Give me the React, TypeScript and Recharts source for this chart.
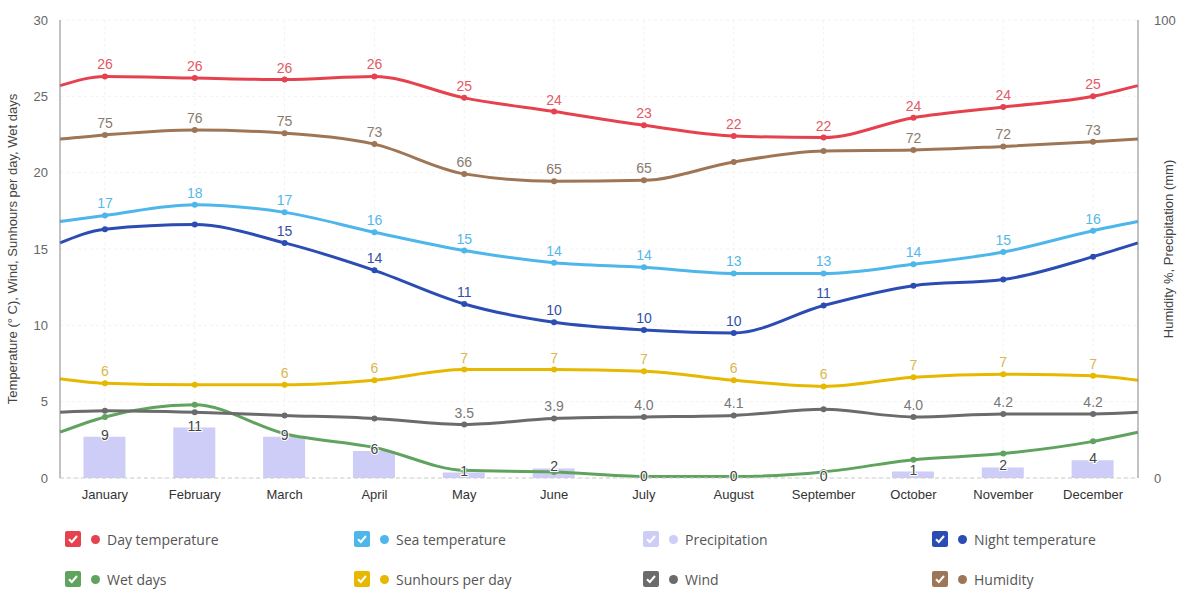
import React from 'react';
import { ComposedChart, Line, Bar, XAxis, YAxis, CartesianGrid, LabelList } from 'recharts';

const months = [
  'January', 'February', 'March', 'April', 'May', 'June',
  'July', 'August', 'September', 'October', 'November', 'December',
];

// first and last entries are the values where the curves meet the plot edges
const dayTemp = [25.7, 26.3, 26.2, 26.1, 26.3, 24.9, 24.0, 23.1, 22.4, 22.3, 23.6, 24.3, 25.0, 25.7];
const seaTemp = [16.8, 17.2, 17.9, 17.4, 16.1, 14.9, 14.1, 13.8, 13.4, 13.4, 14.0, 14.8, 16.2, 16.8];
const precipitation = [null, 9, 11, 9, 5.9, 1.2, 2.1, 0, 0, 0, 1.4, 2.3, 3.9, null];
const nightTemp = [15.4, 16.3, 16.6, 15.4, 13.6, 11.4, 10.2, 9.7, 9.5, 11.3, 12.6, 13.0, 14.5, 15.4];
const wetDays = [3.0, 4.0, 4.8, 2.9, 2.0, 0.5, 0.4, 0.1, 0.1, 0.4, 1.2, 1.6, 2.4, 3.0];
const sunhours = [6.5, 6.2, 6.1, 6.1, 6.4, 7.1, 7.1, 7.0, 6.4, 6.0, 6.6, 6.8, 6.7, 6.4];
const wind = [4.3, 4.4, 4.3, 4.1, 3.9, 3.5, 3.9, 4.0, 4.1, 4.5, 4.0, 4.2, 4.2, 4.3];
const humidity = [74.0, 74.9, 76.0, 75.3, 72.9, 66.4, 64.8, 65.0, 69.0, 71.4, 71.6, 72.4, 73.4, 74.0];

// months (0-based) whose value labels are not shown
const nightHidden = [0, 1, 9, 10, 11];
const sunHidden = [1];
const windHidden = [0, 1, 2, 3, 8];
const humidityHidden = [7, 8];

const leftTicks = [0, 5, 10, 15, 20, 25, 30];
const rightTicks = [0, 100];

const data = dayTemp.map((_, i) => ({
  x: i === 0 ? -0.5 : i === dayTemp.length - 1 ? 11.5 : i - 1,
  edge: i === 0 || i === dayTemp.length - 1,
  day: dayTemp[i],
  sea: seaTemp[i],
  precip: precipitation[i],
  night: nightTemp[i],
  wet: wetDays[i],
  sun: sunhours[i],
  wind: wind[i],
  hum: humidity[i],
}));

const COLORS = {
  day: '#e5414e',
  sea: '#4db6ea',
  precip: '#cdcdf7',
  night: '#2b4db3',
  wet: '#5fa35f',
  sun: '#e6b800',
  wind: '#6b6b6b',
  hum: '#9e7656',
};

const font = '"Liberation Sans", Arial, sans-serif';

const makeDot = (color: string) => (props: any) => {
  const { cx, cy, index, payload } = props;
  if (payload.edge) return <g key={`d-${index}`} />;
  return <circle key={`d-${index}`} cx={cx} cy={cy} r={3} fill={color} />;
};

const makeLabel = (color: string, hidden: number[], fmt: (v: number) => string, dy = -7, halo = false) => (props: any) => {
  const { x, y, value, index } = props;
  const m = index - 1;
  if (m < 0 || m > 11 || hidden.includes(m) || value == null) return <g key={`l-${index}`} />;
  return (
    <text key={`l-${index}`} x={x} y={y + dy} textAnchor="middle" fill={color}
      stroke={halo ? '#fff' : 'none'} strokeWidth={halo ? 2 : 0} paintOrder="stroke"
      style={{ fontSize: 14, fontFamily: font }}>
      {fmt(value)}
    </text>
  );
};

const round = (v: number) => String(Math.round(v));
const fixed1 = (v: number) => v.toFixed(1);

const legendItems = [
  { name: 'Day temperature', color: COLORS.day },
  { name: 'Sea temperature', color: COLORS.sea },
  { name: 'Precipitation', color: COLORS.precip },
  { name: 'Night temperature', color: COLORS.night },
  { name: 'Wet days', color: COLORS.wet },
  { name: 'Sunhours per day', color: COLORS.sun },
  { name: 'Wind', color: COLORS.wind },
  { name: 'Humidity', color: COLORS.hum },
];

const Legend = () => (
  <div style={{ position: 'relative', height: 80, fontFamily: '"Open Sans", "Noto Sans", sans-serif' }}>
    {legendItems.map((it, i) => {
      const col = i % 4;
      const row = Math.floor(i / 4);
      return (
        <div key={it.name} style={{
          position: 'absolute', left: 65 + col * 289, top: 10 + row * 40,
          display: 'flex', alignItems: 'center', height: 18,
        }}>
          <div style={{ width: 16, height: 16, borderRadius: 2, background: it.color, display: 'flex', alignItems: 'center', justifyContent: 'center' }}>
            <svg width="12" height="12" viewBox="0 0 12 12">
              <path d="M2 6.2 L4.8 9 L10 3" stroke="#fff" strokeWidth="2" fill="none" />
            </svg>
          </div>
          <div style={{ width: 9, height: 9, borderRadius: '50%', background: it.color, marginLeft: 10 }} />
          <span style={{ marginLeft: 7, fontSize: 14, color: '#555' }}>{it.name}</span>
        </div>
      );
    })}
  </div>
);

export default function App() {
  return (
    <div style={{ position: 'absolute', left: 0, top: 0, width: 1178, height: 592, background: '#fff' }}>
      <ComposedChart width={1178} height={520} data={data} margin={{ top: 20, right: 0, left: 0, bottom: 0 }}>
        <CartesianGrid stroke="#f2f2f2" strokeDasharray="3 3" yAxisId="left" />
        <XAxis
          dataKey="x"
          type="number"
          domain={[-0.5, 11.5]}
          ticks={[0, 1, 2, 3, 4, 5, 6, 7, 8, 9, 10, 11]}
          tickFormatter={(v: number) => months[v]}
          interval={0}
          height={42}
          tickSize={0}
          tickMargin={12}
          axisLine={{ stroke: '#cccccc', strokeDasharray: '4 3' }}
          tick={{ fill: '#333', fontSize: 13, fontFamily: font }}
        />
        <YAxis
          yAxisId="left"
          domain={[0, 30]}
          ticks={leftTicks}
          width={60}
          tickSize={0}
          tickMargin={12}
          axisLine={{ stroke: '#888' }}
          tick={{ fill: '#666', fontSize: 13, fontFamily: font }}
          label={{
            value: 'Temperature (° C), Wind, Sunhours per day, Wet days',
            angle: -90, position: 'insideLeft', offset: 12,
            style: { textAnchor: 'middle', fill: '#444', fontSize: 13, fontFamily: font },
          }}
        />
        <YAxis
          yAxisId="right"
          orientation="right"
          domain={[0, 100]}
          ticks={rightTicks}
          width={40}
          tickSize={0}
          tickMargin={16}
          axisLine={{ stroke: '#888' }}
          tick={{ fill: '#666', fontSize: 13, fontFamily: font }}
          label={{
            value: 'Humidity %, Precipitation (mm)',
            angle: -90, position: 'insideRight', offset: 10,
            style: { textAnchor: 'middle', fill: '#444', fontSize: 13, fontFamily: font },
          }}
        />
        <Bar yAxisId="right" dataKey="precip" fill={COLORS.precip} barSize={42} isAnimationActive={false} />
        <Line yAxisId="left" type="monotone" dataKey="wet" stroke={COLORS.wet} strokeWidth={3}
          dot={makeDot(COLORS.wet)} activeDot={false} isAnimationActive={false} />
        <Line yAxisId="left" type="monotone" dataKey="wind" stroke={COLORS.wind} strokeWidth={3}
          dot={makeDot(COLORS.wind)} activeDot={false} isAnimationActive={false}>
          <LabelList dataKey="wind" content={makeLabel('#777', windHidden, fixed1)} />
        </Line>
        <Line yAxisId="left" type="monotone" dataKey="sun" stroke={COLORS.sun} strokeWidth={3}
          dot={makeDot(COLORS.sun)} activeDot={false} isAnimationActive={false}>
          <LabelList dataKey="sun" content={makeLabel('#d9b84c', sunHidden, round)} />
        </Line>
        <Line yAxisId="left" type="monotone" dataKey="night" stroke={COLORS.night} strokeWidth={3}
          dot={makeDot(COLORS.night)} activeDot={false} isAnimationActive={false}>
          <LabelList dataKey="night" content={makeLabel('#3350a8', nightHidden, round)} />
        </Line>
        <Line yAxisId="left" type="monotone" dataKey="sea" stroke={COLORS.sea} strokeWidth={3}
          dot={makeDot(COLORS.sea)} activeDot={false} isAnimationActive={false}>
          <LabelList dataKey="sea" content={makeLabel('#55b8e8', [], round)} />
        </Line>
        <Line yAxisId="right" type="monotone" dataKey="hum" stroke={COLORS.hum} strokeWidth={3}
          dot={makeDot(COLORS.hum)} activeDot={false} isAnimationActive={false}>
          <LabelList dataKey="hum" content={makeLabel('#8a7a6c', humidityHidden, round)} />
        </Line>
        <Line yAxisId="left" type="monotone" dataKey="day" stroke={COLORS.day} strokeWidth={3}
          dot={makeDot(COLORS.day)} activeDot={false} isAnimationActive={false}>
          <LabelList dataKey="day" content={makeLabel('#e25a66', [], round)} />
        </Line>
        <Line yAxisId="right" dataKey="precip" stroke="none" dot={false} activeDot={false}
          legendType="none" isAnimationActive={false}>
          <LabelList dataKey="precip" content={makeLabel('#444', [], round, 3, true)} />
        </Line>
      </ComposedChart>
      <Legend />
    </div>
  );
}
